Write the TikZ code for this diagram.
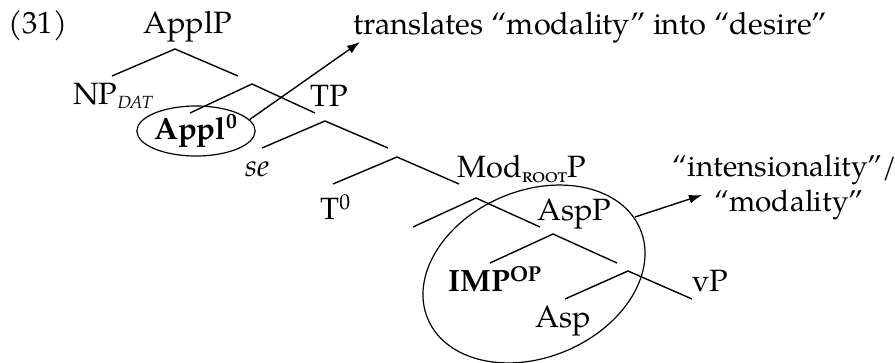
\documentclass[tikz,border=0pt]{standalone}
\usepackage{fontspec}
\setmainfont{TeX Gyre Pagella}
\usetikzlibrary{arrows.meta,shapes.geometric}
\begin{document}
\begin{tikzpicture}[x=0.5pt,y=-0.5pt,
  font=\fontsize{15.4}{18}\selectfont,
  lbl/.style={anchor=base west, inner sep=0pt},
  note/.style={anchor=base, inner sep=0pt, font=\fontsize{14.9}{18}\selectfont},
  br/.style={line width=0.7pt},
  arr/.style={line width=0.7pt,-{Latex[length=6.5pt,width=4.5pt]}},
  circ/.style={draw, ellipse, line width=0.6pt, inner sep=0pt}]
\useasboundingbox (0,0) rectangle (895,363);

% labels
\node[lbl] (ex) at (8,34) {(31)};
\node[lbl] (applp) at (143,34) {ApplP};
\node[lbl] (trans) at (353,35) {translates ``modality'' into ``desire''};
\node[lbl] (np) at (73,105) {NP\raisebox{-2pt}{\fontsize{8.8}{10}\selectfont\itshape DAT}};
\node[circ, minimum width=49pt, minimum height=25pt] (appl) at (196,131) {\textbf{Appl\textsuperscript{0}}};
\node[lbl] (tp) at (310,107) {TP};
\node[lbl] (se) at (245,177) {\textit{se}};
\node[lbl] (t0) at (320,220) {T\textsuperscript{0}};
\node[lbl] (modp) at (457,178) {Mod\textsubscript{\textsc{root}}P};
\node[lbl] (aspp) at (537,221) {AspP};
\node[lbl] (imp) at (448,292) {\textbf{IMP\textsuperscript{OP}}};
\node[lbl] (vp) at (692,292) {vP};
\node[lbl] (asp) at (535,328) {Asp};
\node[note] (int1) at (785,177) {``intensionality''/};
\node[note] (int2) at (789,212) {``modality''};

% big ellipse
\node[circ, rotate=23, minimum width=115.3pt, minimum height=83.3pt] (big) at (534,274) {};

% branch points
\coordinate (a1) at (175,49);  \coordinate (l1) at (112,76);  \coordinate (r1) at (238,76);
\coordinate (a2) at (252,84);  \coordinate (l2) at (190,113); \coordinate (r2) at (315,113);
\coordinate (a3) at (325,121); \coordinate (l3) at (262,148); \coordinate (r3) at (388,148);
\coordinate (a4) at (397,157); \coordinate (l4) at (333,184); \coordinate (r4) at (459,184);
\coordinate (a5) at (476,198); \coordinate (l5) at (413,227); \coordinate (r5) at (540,227);
\coordinate (a6) at (553,234); \coordinate (l6) at (490,263); \coordinate (r6) at (617,263);
\coordinate (a7) at (628,271); \coordinate (l7) at (565,299); \coordinate (r7) at (692,299);

\foreach \i in {1,...,7} {\draw[br] (l\i) -- (a\i) -- (r\i);}

% arrows
\coordinate (t1) at (360,42);
\coordinate (s2) at (635,217);
\coordinate (t2) at (702,195);
\draw[arr] (appl.12) -- (t1);
\draw[arr] (s2) -- (t2);
\end{tikzpicture}
\end{document}
